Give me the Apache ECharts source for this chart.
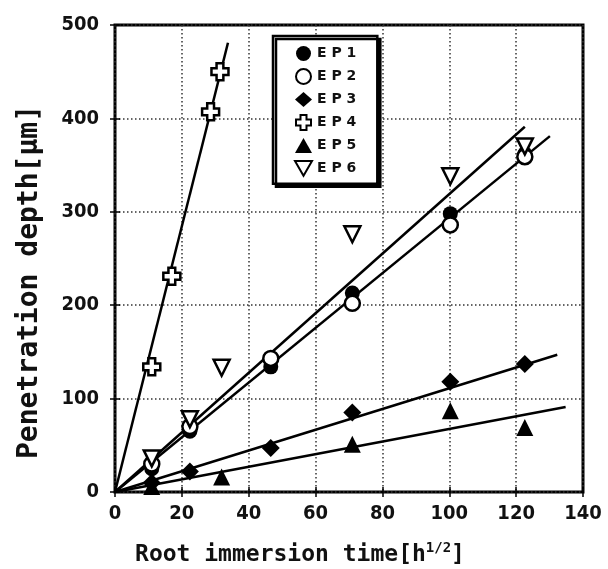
<!DOCTYPE html>
<html>
<head>
<meta charset="utf-8">
<script src="https://cdn.jsdelivr.net/npm/echarts@6/dist/echarts.min.js"></script>
<style>
  html, body { margin: 0; padding: 0; background: #fff; }
  #chart { width: 608px; height: 569px; }
</style>
</head>
<body>
<div id="chart"></div>
<script>
const seriesNames = ['EP1', 'EP2', 'EP3', 'EP4', 'EP5', 'EP6'];

// measured points, x = sqrt(h)
const ep1X = [11, 22.4, 46.6, 71, 100.3, 122.6];
const ep1Y = [25, 65, 134, 213, 298, 362];
const ep2X = [11, 22.4, 46.6, 71, 100.3, 122.6];
const ep2Y = [30, 70, 143, 202, 286, 359];
const ep3X = [11, 22.4, 46.6, 71, 100.3, 122.6];
const ep3Y = [10, 22, 47, 85, 118, 137];
const ep4X = [11, 17, 28.6, 31.4];
const ep4Y = [134, 231, 407, 450];
const ep5X = [11, 31.9, 71, 100.3, 122.6];
const ep5Y = [6, 16, 51, 87, 69];
const ep6X = [11, 22.4, 31.9, 71, 100.3, 122.6];
const ep6Y = [36, 78, 133, 276, 338, 370];

// fitted straight lines (start / end)
const fitUpperX = [0, 122.6];
const fitUpperY = [0, 391];
const fitLowerX = [0, 130.1];
const fitLowerY = [0, 381];
const fitEp3X = [0, 132.3];
const fitEp3Y = [0, 147];
const fitEp4X = [0, 33.8];
const fitEp4Y = [0, 481];
const fitEp5X = [0, 134.8];
const fitEp5Y = [0, 91];

const xMin = 0, xMax = 140, xStep = 20;
const yMin = 0, yMax = 500, yStep = 100;

const PLUS = 'path://M3,0 H7 V3 H10 V7 H7 V10 H3 V7 H0 V3 H3 Z';
const DOWN_TRI = 'path://M0,0 L10,0 L5,8.7 Z';

const zip = (xs, ys) => xs.map((x, i) => [x, ys[i]]);

const filled = { color: '#000', opacity: 1 };
const hollow = { color: '#fff', borderColor: '#000', borderWidth: 2.5, opacity: 1 };

const markerDefs = [
  { x: ep1X, y: ep1Y, symbol: 'circle', size: 15, style: filled },
  { x: ep2X, y: ep2Y, symbol: 'circle', size: 15, style: hollow },
  { x: ep3X, y: ep3Y, symbol: 'diamond', size: 18, style: filled },
  { x: ep4X, y: ep4Y, symbol: PLUS, size: 17, style: hollow },
  { x: ep5X, y: ep5Y, symbol: 'triangle', size: 17, style: filled },
  { x: ep6X, y: ep6Y, symbol: DOWN_TRI, size: 16, style: hollow },
];

const fitLines = [
  zip(fitUpperX, fitUpperY),
  zip(fitLowerX, fitLowerY),
  zip(fitEp3X, fitEp3Y),
  zip(fitEp4X, fitEp4Y),
  zip(fitEp5X, fitEp5Y),
];

const tickFont = "'Liberation Sans Narrow', 'DejaVu Sans Condensed', sans-serif";
const titleFont = "'DejaVu Sans Mono', monospace";

const gridLine = { show: true, lineStyle: { color: '#333', width: 1.5, type: [1.5, 2.5] } };
const tickStyle = { show: true, inside: true, length: 5, lineStyle: { color: '#000', width: 1.5 } };

const lineSeries = fitLines.map((data) => ({
  type: 'line',
  data,
  symbol: 'none',
  silent: true,
  z: 2,
  lineStyle: { color: '#000', width: 2.5 },
}));

const scatterSeries = markerDefs.map((def, i) => ({
  name: seriesNames[i],
  type: 'scatter',
  data: zip(def.x, def.y),
  symbol: def.symbol,
  symbolSize: def.size,
  itemStyle: def.style,
  z: 3 + i,
}));

const chart = echarts.init(document.getElementById('chart'), null, { renderer: 'canvas' });

chart.setOption({
  animation: false,
  backgroundColor: '#fff',
  grid: {
    left: 115, right: 25, top: 25, bottom: 77,
    show: true, borderColor: '#000', borderWidth: 3, backgroundColor: 'transparent',
  },
  legend: {
    orient: 'vertical',
    left: 273,
    top: 36,
    data: seriesNames,
    padding: [10, 21, 7, 21],
    itemGap: 7,
    itemWidth: 17,
    itemHeight: 15,
    itemTextGap: 10,
    backgroundColor: '#fff',
    borderColor: '#000',
    borderWidth: 2.5,
    shadowColor: '#000',
    shadowBlur: 0,
    shadowOffsetX: 3,
    shadowOffsetY: 3,
    formatter: (name) => name.split('').join(' '),
    textStyle: { fontFamily: "'DejaVu Sans', sans-serif", fontWeight: 'bold', fontSize: 14, color: '#111' },
  },
  xAxis: [{
    type: 'value', min: xMin, max: xMax, interval: xStep,
    axisLine: { show: false },
    axisTick: tickStyle,
    axisLabel: { margin: 12, fontFamily: tickFont, fontWeight: 'bold', fontSize: 20, color: '#111' },
    splitLine: gridLine,
  }, {
    type: 'value', position: 'top', min: xMin, max: xMax, interval: xStep,
    axisLine: { show: false },
    axisTick: tickStyle,
    axisLabel: { show: false },
    splitLine: { show: false },
  }],
  yAxis: [{
    type: 'value', min: yMin, max: yMax, interval: yStep,
    axisLine: { show: false },
    axisTick: tickStyle,
    axisLabel: { margin: 16, fontFamily: tickFont, fontWeight: 'bold', fontSize: 20, color: '#111' },
    splitLine: gridLine,
  }, {
    type: 'value', position: 'right', min: yMin, max: yMax, interval: yStep,
    axisLine: { show: false },
    axisTick: tickStyle,
    axisLabel: { show: false },
    splitLine: { show: false },
  }],
  graphic: [{
    type: 'text',
    x: 300, y: 555,
    style: {
      text: '{a|Root immersion time[h}{s|1/2}{a|]}',
      align: 'center',
      verticalAlign: 'middle',
      rich: {
        a: { fontFamily: titleFont, fontWeight: 'bold', fontSize: 23, fill: '#111', lineHeight: 28 },
        s: { fontFamily: titleFont, fontWeight: 'bold', fontSize: 14, fill: '#111', verticalAlign: 'top', lineHeight: 14 },
      },
    },
  }, {
    type: 'text',
    x: 30, y: 282,
    rotation: Math.PI / 2,
    style: {
      text: 'Penetration depth[μm]',
      align: 'center',
      verticalAlign: 'middle',
      fontFamily: titleFont,
      fontWeight: 'bold',
      fontSize: 28,
      fill: '#111',
    },
  }],
  series: [...lineSeries, ...scatterSeries],
});
</script>
</body>
</html>
